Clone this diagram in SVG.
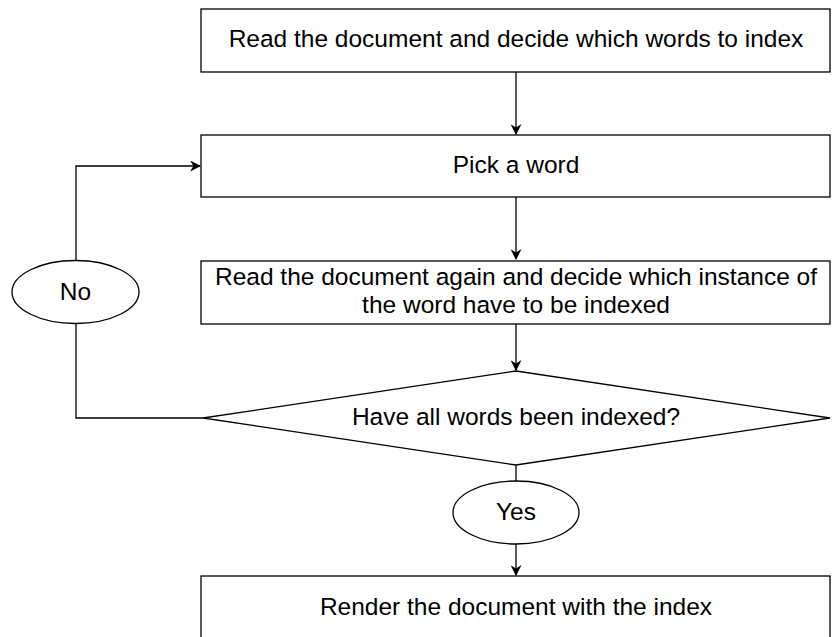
<svg xmlns="http://www.w3.org/2000/svg" width="832" height="637" viewBox="0 0 832 637">
<style>
.s{fill:#fff;stroke:#000;stroke-width:1.3}
.t{font-family:"Liberation Sans",Arial,sans-serif;font-size:24.5px;fill:#000;text-anchor:middle}
.c{fill:none;stroke:#000;stroke-width:1.3}
</style>
<defs>
<marker id="a" viewBox="0 0 10 10" refX="9" refY="5" markerWidth="11" markerHeight="11" markerUnits="userSpaceOnUse" orient="auto">
<path d="M0,0 L10,5 L0,10 L3,5 Z" fill="#000"/>
</marker>
</defs>
<rect width="832" height="637" fill="#fff"/>
<g id="connectors">
<path class="c" d="M516,72 V134" marker-end="url(#a)"/>
<path class="c" d="M516,197 V259" marker-end="url(#a)"/>
<path class="c" d="M516,324 V370" marker-end="url(#a)"/>
<path class="c" d="M516,465 V481"/>
<path class="c" d="M516,544 V575" marker-end="url(#a)"/>
<path class="c" d="M203,418 H76 V324"/>
<path class="c" d="M76,261 V166 H200" marker-end="url(#a)"/>
</g>
<g id="n1"><rect class="s" x="201" y="9" width="629" height="63"/><text class="t" x="516" y="47">Read the document and decide which words to index</text></g>
<g id="n2"><rect class="s" x="201" y="135" width="629" height="62"/><text class="t" x="516" y="173">Pick a word</text></g>
<g id="n3"><rect class="s" x="201" y="261" width="629" height="63"/><text class="t" x="516" y="285">Read the document again and decide which instance of</text><text class="t" x="516" y="313">the word have to be indexed</text></g>
<g id="n4"><polygon class="s" points="516,371 830,418 516,465 203,418"/><text class="t" x="516" y="425">Have all words been indexed?</text></g>
<g id="n5"><ellipse class="s" cx="516" cy="512.5" rx="63" ry="31.5"/><text class="t" x="516" y="520">Yes</text></g>
<g id="n6"><ellipse class="s" cx="75.5" cy="292" rx="63.5" ry="31.5"/><text class="t" x="75.5" y="300">No</text></g>
<g id="n7"><rect class="s" x="201" y="576" width="629" height="70"/><text class="t" x="516" y="615">Render the document with the index</text></g>
</svg>
